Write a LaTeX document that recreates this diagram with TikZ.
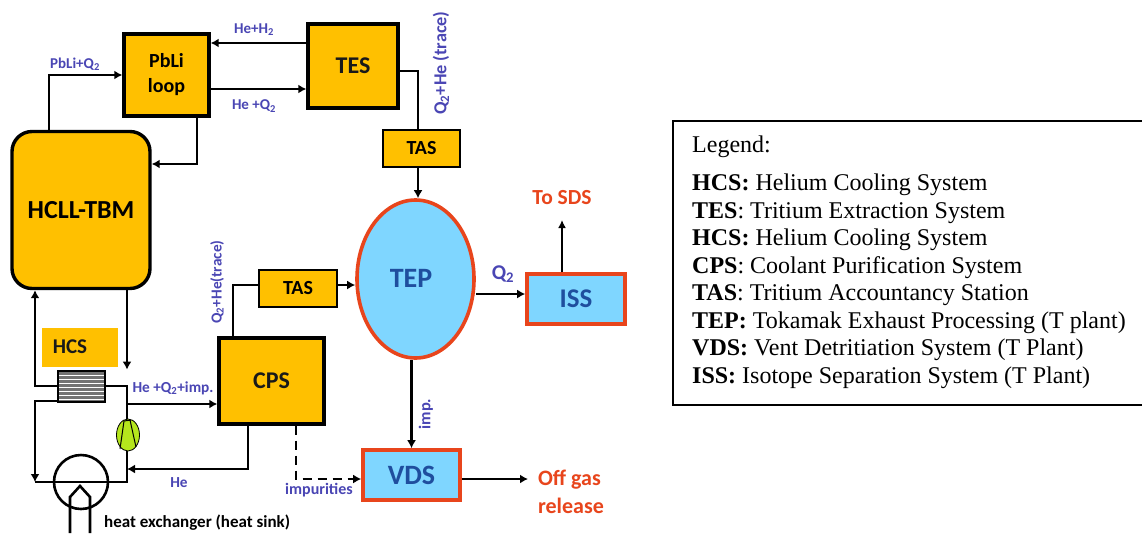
\documentclass[tikz,border=0pt]{standalone}
\usepackage{fontspec}
\setmainfont{Liberation Serif}
\newfontfamily\calib{Carlito}
\usetikzlibrary{arrows.meta,shapes.geometric}
\definecolor{gold}{HTML}{FFC000}
\definecolor{sky}{HTML}{7FD6FF}
\definecolor{redo}{HTML}{E8451C}
\definecolor{lbl}{HTML}{4A46B4}
\definecolor{darkb}{HTML}{1F4E9E}
\definecolor{lime}{HTML}{B5E61D}
\newcommand{\fs}[1]{\fontsize{#1}{#1}\selectfont}
\tikzset{
 x=1pt,y=-1pt,
 gbox/.style={draw=black,fill=gold,line width=3.4pt,inner sep=0pt,align=center,font=\calib\bfseries\fs{24}\color{black!90}},
 bbox/.style={draw=redo,fill=sky,line width=3.6pt,inner sep=0pt,align=center,font=\calib\bfseries\fs{28}\color{darkb}},
 flow/.style={line width=2.6pt,-{Latex[length=8pt,width=9pt]}},
 pipe/.style={line width=2.6pt},
 lab/.style={inner sep=0pt,text=lbl,font=\calib\bfseries\fs{15.3}},
 redlab/.style={inner sep=0pt,text=redo,font=\calib\bfseries\fs{22},align=center},
}
\begin{document}
\begin{tikzpicture}
\useasboundingbox (0,0) rectangle (1142,533);
\fill[white] (0,0) rectangle (1142,533);
% boxes
\node[gbox,minimum width=85pt,minimum height=82pt,font=\calib\bfseries\fs{20}] (pbli) at (166.5,75) {PbLi\\[5pt]loop};
\node[gbox,minimum width=90pt,minimum height=84pt] (tes) at (353,66) {TES};
\node[gbox,minimum width=77pt,minimum height=37pt,line width=2.6pt,font=\calib\bfseries\fs{20}] (tasa) at (421.5,148.5) {TAS};
\node[gbox,rounded corners=20pt,minimum width=138pt,minimum height=157pt,font=\calib\bfseries\fs{26}] (hcll) at (81,210) {HCLL-TBM};
\node[gbox,minimum width=105pt,minimum height=86pt] (cps) at (271.5,381) {CPS};
\node[gbox,minimum width=78pt,minimum height=37pt,line width=2.6pt,font=\calib\bfseries\fs{20}] (tasb) at (298,288.5) {TAS};
\node[bbox,ellipse,minimum width=117pt,minimum height=158pt,inner sep=0pt] (tep) at (415.5,279) {};
\node[inner sep=0pt,font=\calib\bfseries\fs{28},text=darkb] (teplabel) at (411,278) {TEP};
\node[bbox,minimum width=98pt,minimum height=50pt,font=\calib\bfseries\fs{27}\color{darkb}] (iss) at (576,299) {ISS};
\node[bbox,minimum width=97pt,minimum height=50pt] (vds) at (411.5,475) {VDS};
\node[fill=gold,minimum width=76pt,minimum height=39pt,inner sep=0pt] (hcs) at (80,347.5) {};
\node[inner sep=0pt,font=\calib\bfseries\fs{21},text=black!90] (hcslabel) at (70,347) {HCS};
% heat exchanger
\node[draw=black,line width=2.8pt,fill=black!55,minimum width=47pt,minimum height=31pt,inner sep=0pt] (hx) at (81.5,386.5) {};
\foreach \yy in {375,379,383,387,391,395,399}{\draw[white,line width=.8pt] (59,\yy) -- (104,\yy);}
% sink
\node[draw=black,circle,line width=2.6pt,minimum size=54pt,inner sep=0pt] (sink) at (81,482) {};
% pump
\node[draw=black,ellipse,fill=lime,line width=.8pt,minimum width=23pt,minimum height=32pt,inner sep=0pt] (pump) at (128,435) {};
\draw[line width=1pt] (124,421) -- (120,449) (130,420) -- (136,447) (124,421) -- (131,420);
% coordinates
\coordinate (ttop) at (127,482);
\coordinate (lft) at (35,482);
\coordinate (lup) at (35,386);
\coordinate (llo) at (35,401);
\coordinate (rt) at (127,386);
\coordinate (jn) at (127,404);
\coordinate (jh) at (127,469);
\coordinate (tr) at (418,71);
\coordinate (hvt) at (248,469);
\coordinate (sds) at (562,220);
\coordinate (off) at (528,479);
\coordinate (dsh) at (296,479);
\coordinate (pla) at (49,75);
\coordinate (plb) at (197,164);
\coordinate (tb) at (233,285);
% connectors
\draw[flow] (hcll.north -| pla) -- (pla) -- (pbli.west |- pla);
\draw[flow] (pbli.south -| plb) -- (plb) -- (hcll.east |- plb);
\draw[flow] (tes.west |- 0,43) -- (pbli.east |- 0,43);
\draw[flow] (pbli.east |- 0,89) -- (tes.west |- 0,89);
\draw[pipe] (tes.east |- tr) -- (tr) -- (tasa.north -| tr);
\draw[flow] (tasa.south -| tr) -- (tep.north -| tr);
\draw[pipe] (cps.north -| tb) -- (tb) -- (tasb.west |- tb);
\draw[flow] (tasb.east |- tb) -- (tep.west |- tb);
\draw[flow] (tep.east |- 0,294) -- (iss.west |- 0,294);
\draw[line width=1.6pt,-{Latex[length=8pt,width=8pt]}] (iss.north -| sds) -- (sds);
\draw[flow] (tep.south -| vds) -- (vds.north);
\draw[flow] (vds.east |- off) -- (off);
\draw[flow,dash pattern=on 9pt off 6pt] (cps.south -| dsh) -- (dsh) -- (vds.west |- dsh);
\draw[flow] (hx.west |- lup) -- (lup) -- (hcll.south -| lup);
\draw[flow] (hcll.south -| rt) -- (hx.north -| rt);
\draw[pipe] (hx.east |- rt) -- (rt) -- (pump.north -| rt);
\draw[pipe] (pump.south -| rt) -- (ttop) -- (lft);
\draw[flow] (hx.west |- llo) -- (llo) -- (lft);
\draw[flow] (jn) -- (cps.west |- jn);
\draw[flow] (cps.south -| hvt) -- (hvt) -- (jh);
% pipe in the sink
\coordinate (pa) at (70,533);
\coordinate (pb) at (70,497);
\coordinate (pc) at (80,486);
\coordinate (pd) at (90,497);
\coordinate (pe) at (90,533);
\draw[line width=2.6pt] (pa) -- (pb) -- (pc) -- (pd) -- (pe);
% labels
\node[lab,font=\calib\bfseries\fs{15}] (l1) at (75,64) {PbLi+Q\textsubscript{2}};
\node[lab,font=\calib\bfseries\fs{15}] (l2) at (254,30) {He+H\textsubscript{2}};
\node[lab,font=\calib\bfseries\fs{15}] (l3) at (254,106) {He +Q\textsubscript{2}};
\node[lab,rotate=90,font=\calib\bfseries\fs{18.3}] (l4) at (441,63) {Q\textsubscript{2}+He (trace)};
\node[lab,rotate=90] (l5) at (217,282) {Q\textsubscript{2}+He(trace)};
\node[lab] (l6) at (173,388) {He +Q\textsubscript{2}+imp.};
\node[lab] (l7) at (179,483) {He};
\node[lab,font=\calib\bfseries\fs{16}] (l8) at (319,490) {impurities};
\node[lab,rotate=90,font=\calib\bfseries\fs{16.5}] (l9) at (426,414) {imp.};
\node[lab,font=\calib\bfseries\fs{21}] (l10) at (503,274) {Q\textsubscript{2}};
\node[redlab,font=\calib\bfseries\fs{21.5}] (l11) at (562,198) {To SDS};
\node[redlab,align=left] (l12) at (571,492) {Off gas\\[6pt]release};
\node[inner sep=0pt,anchor=west,font=\calib\bfseries\fs{17},text=black] (l13) at (104,523) {heat exchanger (heat sink)};
% legend
\node[draw=black,line width=1.2pt,minimum width=474pt,minimum height=284pt,inner sep=0pt] (legbox) at (910,263) {};
\node[inner sep=0pt,anchor=west,font=\fs{24}] (legt) at (692,147) {Legend:};
\node[inner sep=0pt,anchor=north west,align=left,font=\fontsize{24}{27.5}\selectfont] (legl) at (692,174) {%
\textbf{HCS:} Helium Cooling System\\
\textbf{TES}: Tritium Extraction System\\
\textbf{HCS:} Helium Cooling System\\
\textbf{CPS}: Coolant Purification System\\
\textbf{TAS}: Tritium Accountancy Station\\
\textbf{TEP:} Tokamak Exhaust Processing (T plant)\\
\textbf{VDS:} Vent Detritiation System (T Plant)\\
\textbf{ISS:} Isotope Separation System (T Plant)};
\end{tikzpicture}
\end{document}
